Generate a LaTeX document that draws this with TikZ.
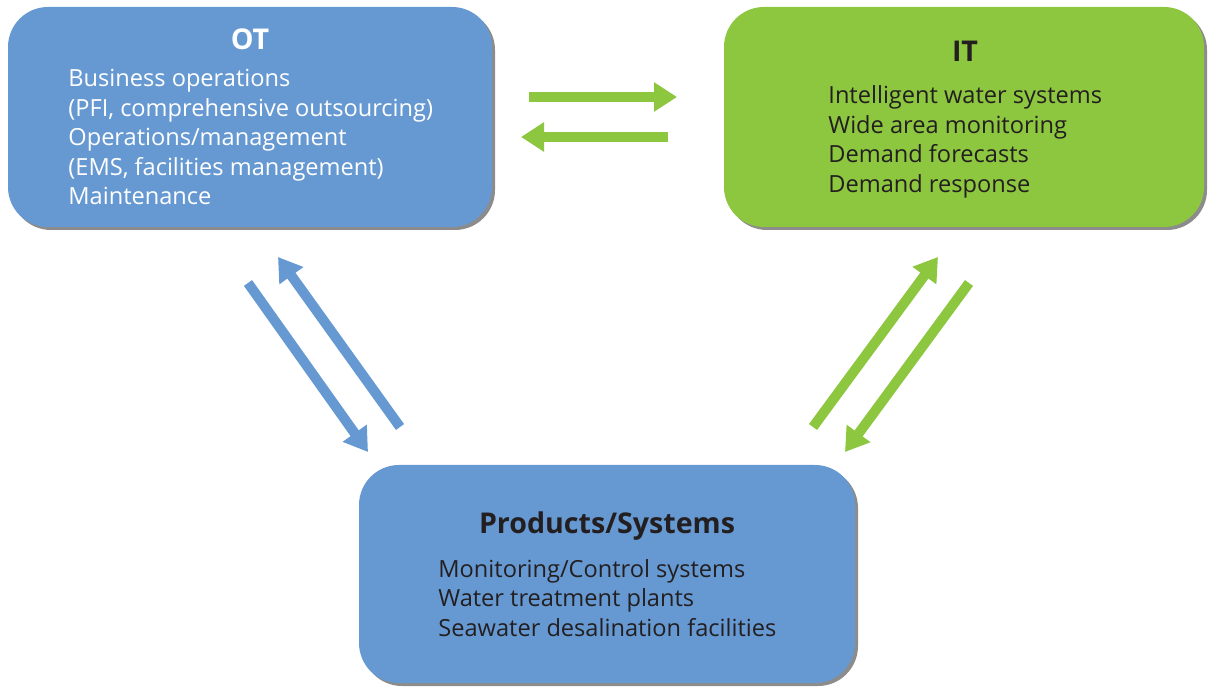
\documentclass[tikz,border=0pt]{standalone}
\usepackage{fontspec}
\setmainfont{Open Sans}
\usetikzlibrary{arrows.meta}
\usetikzlibrary{shadows}
\usetikzlibrary{positioning}
\definecolor{otblue}{RGB}{102,153,210}
\definecolor{itgreen}{RGB}{141,198,63}
\definecolor{textdark}{RGB}{35,31,32}
\tikzset{
  box/.style={rounded corners=20pt,inner sep=0pt,
    drop shadow={shadow xshift=1.5pt,shadow yshift=-1.5pt,fill=black,opacity=0.45}},
  boxtitle/.style={font=\bfseries\fontsize{14.3}{16}\selectfont,anchor=base,inner sep=0pt},
  boxbody/.style={font=\fontsize{11.8}{14.75}\selectfont,align=left,anchor=base west,inner sep=0pt},
  fatarrow/.style={line width=5pt,-{Triangle[length=11.5pt,width=14pt]}},
}

\begin{document}
\begin{tikzpicture}[x=0.5pt,y=-0.5pt]
\useasboundingbox (0,0) rectangle (1208,688);
% boxes
\node[box,fill=otblue,minimum width=242pt,minimum height=110pt] (ot) at (250,117) {};
\node[box,fill=itgreen,minimum width=240pt,minimum height=110pt] (it) at (964,117) {};
\node[box,fill=otblue,minimum width=248pt,minimum height=109pt] (ps) at (607,574) {};
% texts (base = last line)
\node[boxtitle,text=white] (ottitle) at (250,50) {OT};
\node[boxbody,text=white] (otbody) at (68,205) {Business operations\\(PFI, comprehensive outsourcing)\\Operations/management\\(EMS, facilities management)\\Maintenance};
\node[boxtitle,text=textdark] (ittitle) at (965,62) {IT};
\node[boxbody,text=textdark] (itbody) at (828,192.5) {Intelligent water systems\\Wide area monitoring\\Demand forecasts\\Demand response};
\node[boxtitle,text=textdark] (pstitle) at (607,533) {Products/Systems};
\node[boxbody,text=textdark] (psbody) at (438,636) {Monitoring/Control systems\\Water treatment plants\\Seawater desalination facilities};
% arrow ends
\coordinate (otout) at (529,97);
\coordinate (itin) at (677,97);
\coordinate (itout) at (668,137);
\coordinate (otin) at (521,137);
\coordinate (otdown) at (248,283);
\coordinate (psinleft) at (368,452);
\coordinate (psoutleft) at (400,427);
\coordinate (otup) at (278,257);
\coordinate (psoutright) at (813,427);
\coordinate (itup) at (938,257);
\coordinate (itdown) at (969,283);
\coordinate (psinright) at (845,452);
% arrows
\draw[fatarrow,itgreen] (otout) -- (itin);
\draw[fatarrow,itgreen] (itout) -- (otin);
\draw[fatarrow,otblue] (otdown) -- (psinleft);
\draw[fatarrow,otblue] (psoutleft) -- (otup);
\draw[fatarrow,itgreen] (psoutright) -- (itup);
\draw[fatarrow,itgreen] (itdown) -- (psinright);
\end{tikzpicture}
\end{document}
